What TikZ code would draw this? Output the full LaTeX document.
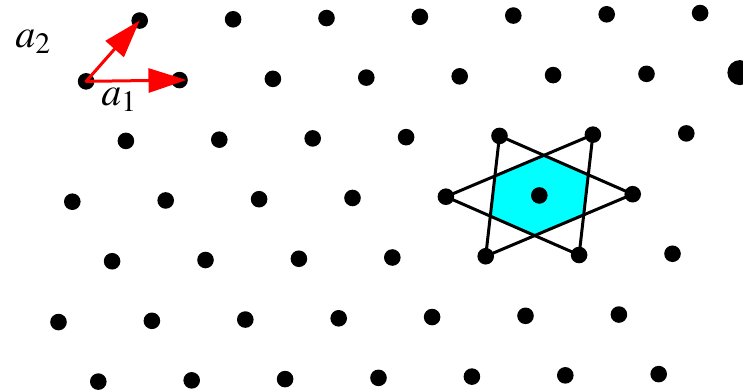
\documentclass[tikz,border=0pt]{standalone}
\usepackage{mathptmx}
\usetikzlibrary{arrows.meta}
\definecolor{cellcyan}{RGB}{0,255,255}

\begin{document}
\begin{tikzpicture}[line join=round, line cap=round,
  x={(93.4pt,1.25pt)}, y={(53.6pt,60.8pt)},
  dot/.style={circle, fill=black, inner sep=0pt, minimum size=16.6pt},
  bigdot/.style={dot, minimum size=25pt},
  starline/.style={black, line width=3pt},
  vec/.style={red, line width=3pt, -{Triangle[length=38pt,width=24pt]}},
  lbl/.style={font=\fontsize{40}{48}\selectfont}]
\useasboundingbox (-72.3pt,-189.3pt) rectangle (670.7pt,201.7pt);

% cell round the centre site
\fill[cellcyan] ({5+1/3},{1/3}) -- ({5-1/3},{2/3}) -- ({5-2/3},{1/3})
  -- ({5-1/3},{-1/3}) -- ({5+1/3},{-2/3}) -- ({5+2/3},{-1/3}) -- cycle;

% lattice sites, row r from the top, k along the row
\foreach \r/\s in {1/-1,2/-1,3/0,4/0,5/1,6/1,7/2}
  \foreach \k in {1,...,7}
    \node[dot] (p\r\k) at ({\s+\k-1},{4-\r}) {};
\node[bigdot] (p28) at (6,2) {};

% star of the six neighbours
\draw[starline] (p35.center) -- (p47.center) -- (p55.center) -- cycle;
\draw[starline] (p36.center) -- (p56.center) -- (p45.center) -- cycle;

% primitive vectors
\draw[vec, shorten >=-7pt] (p21.center) -- (p22.center);
\draw[vec] (p21.center) -- (p11.center);
\node[lbl] (la1) at (46.7pt,101.7pt) {$a_1$};
\node[lbl] (la2) at (-39.3pt,159.7pt) {$a_2$};
\end{tikzpicture}
\end{document}
